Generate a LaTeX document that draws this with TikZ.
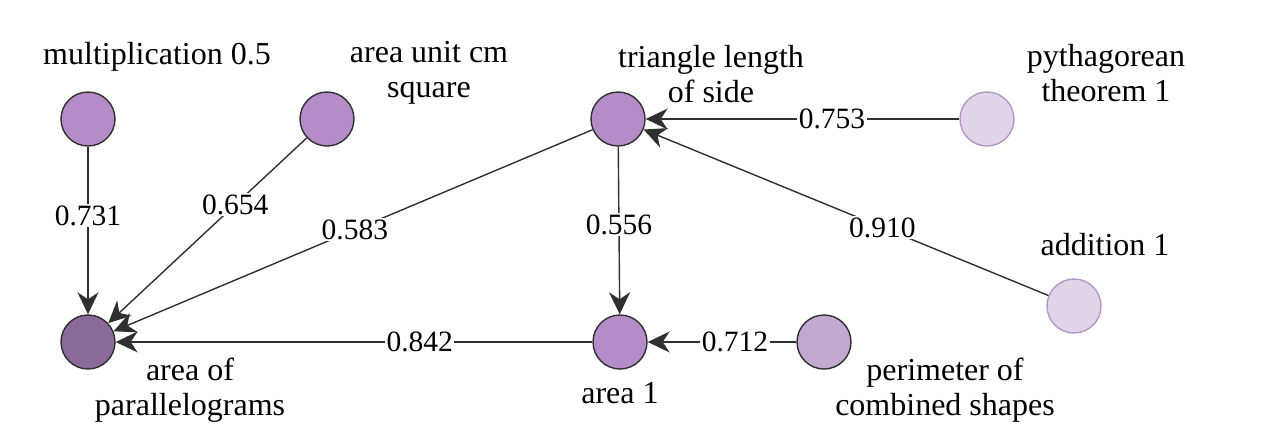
\documentclass[tikz,border=0pt]{standalone}
\usepackage{fontspec}
\newfontfamily\lserif{Liberation Serif}
\newcommand\labfont{\lserif\fontsize{32}{35}\selectfont}
\newcommand\wtfont{\lserif\fontsize{29.5}{32}\selectfont}
\usetikzlibrary{arrows.meta}
\definecolor{midp}{HTML}{B48CC8}
\definecolor{darkp}{HTML}{8A6A98}
\definecolor{lightp}{HTML}{E0D4E8}
\definecolor{lightb}{HTML}{B496C4}
\definecolor{perp}{HTML}{C3A8CF}
\definecolor{edgec}{HTML}{303030}
\begin{document}
\begin{tikzpicture}[x=1pt, y=-1pt, font=\labfont,
  nd/.style={circle, minimum size=54pt, inner sep=0pt, draw=edgec, line width=1.4pt, fill=midp},
  ndlight/.style={nd, draw=lightb, fill=lightp},
  lab/.style={align=center, inner sep=0pt},
  arr/.style={draw=edgec, line width=1.4pt},
  wt/.style={font=\wtfont, fill=white, inner sep=1.5pt}]
\useasboundingbox (0,0) rectangle (1279,440);
\node[nd] (mul) at (88,119) {};
\node[nd] (unit) at (327,119) {};
\node[nd] (tri) at (618,119) {};
\node[ndlight] (pyt) at (987,119) {};
\node[ndlight] (add) at (1074,306) {};
\node[nd, fill=darkp] (par) at (88,342) {};
\node[nd] (a1) at (620,342) {};
\node[nd, fill=perp] (per) at (824,342) {};

\node[lab] (lmul) at (157,57) {multiplication 0.5};
\node[lab] (lunit) at (429,73) {area unit cm\\square};
\node[lab] (ltri) at (711,74) {triangle length\\of side};
\node[lab] (lpyt) at (1106,73) {pythagorean\\theorem 1};
\node[lab] (ladd) at (1105,245) {addition 1};
\node[lab] (lpar) at (190,390) {area of\\parallelograms};
\node[lab] (la1) at (620,393) {area 1};
\node[lab] (lper) at (945,390) {perimeter of\\combined shapes};

\draw[arr, -{Stealth[length=22pt, width=21pt, inset=7pt]}] (mul) -- node[wt, pos=0.41] {0.731} (par);
\draw[arr, -{Stealth[length=22pt, width=21pt, inset=7pt]}] (unit) -- node[wt, pos=0.36] {0.654} (par);
\draw[arr, -{Stealth[length=22pt, width=21pt, inset=7pt]}] (tri) -- node[wt, pos=0.496] {0.583} (par);
\draw[arr, -{Stealth[length=22pt, width=21pt, inset=7pt]}] (tri) -- node[wt, pos=0.467] {0.556} (a1);
\draw[arr, -{Stealth[length=22pt, width=21pt, inset=7pt]}] (pyt) -- node[wt, pos=0.406] {0.753} (tri);
\draw[arr, -{Stealth[length=22pt, width=21pt, inset=7pt]}] (add) -- node[wt, pos=0.41] {0.910} (tri);
\draw[arr, -{Stealth[length=22pt, width=21pt, inset=7pt]}] (a1) -- node[wt, pos=0.362] {0.842} (par);
\draw[arr, -{Stealth[length=22pt, width=21pt, inset=7pt]}] (per) -- node[wt, pos=0.413] {0.712} (a1);
\end{tikzpicture}
\end{document}
